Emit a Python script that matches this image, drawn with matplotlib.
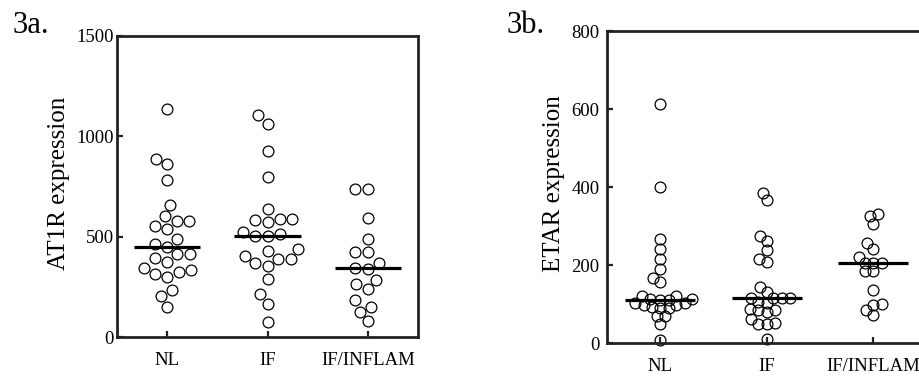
import numpy as np
import matplotlib.pyplot as plt

plt.rcParams['font.family'] = ['Liberation Serif', 'DejaVu Serif']

# categories
groups = ["NL", "IF", "IF/INFLAM"]

# 3a. AT1R expression
at1r_nl = [1136, 889, 864, 780, 658, 601, 580, 578, 553, 537, 488, 465, 450,
           412, 412, 395, 374, 342, 335, 324, 312, 300, 236, 203, 148]
at1r_if = [1106, 1063, 928, 796, 636, 590, 586, 583, 573, 523, 513, 502,
           502, 438, 427, 404, 389, 387, 367, 354, 288, 214, 166, 76]
at1r_inflam = [737, 737, 591, 487, 425, 422, 367, 344, 339, 284, 263, 238,
               184, 150, 126, 78]

# 3b. ETAR expression
etar_nl = [612, 401, 267, 242, 215, 189, 167, 156, 121, 121, 114, 114, 111,
           111, 102, 102, 98, 98, 93, 89, 89, 69, 69, 49, 8]
etar_if = [385, 366, 274, 261, 238, 215, 208, 144, 131, 116, 116, 116, 116,
           106, 102, 86, 84, 84, 79, 61, 52, 49, 49, 9]
etar_inflam = [330, 326, 306, 256, 242, 221, 206, 206, 206, 184, 184, 136,
               101, 97, 84, 73]


def swarm_x(ax, x0, values, d=9.0):
    # simple beeswarm in pixel space: each point goes to the free spot
    # nearest the column centre
    ys = ax.transData.transform([(x0, v) for v in values])[:, 1]
    offs = np.zeros(len(values))
    placed = []
    for i in np.argsort(ys):
        y = ys[i]
        blocked = []
        for px, py in placed:
            dy = abs(y - py)
            if dy < d:
                w = np.sqrt(d * d - dy * dy)
                blocked.append((px - w, px + w))
        cands = sorted([0.0] + [e for a, b in blocked for e in (a, b)], key=abs)
        for c in cands:
            if all(not (a + 1e-6 < c < b - 1e-6) for a, b in blocked):
                break
        offs[i] = c
        placed.append((c, y))
    p0 = ax.transData.transform([(0, 0), (1, 0)])
    ppu = p0[1, 0] - p0[0, 0]
    return x0 + offs / ppu


def column_scatter(ax, data, ymax, yticks, ylabel, label_x, ypad, d):
    ax.set_xlim(0.5, 3.5)
    ax.set_ylim(0, ymax)
    for k, vals in enumerate(data):
        x0 = k + 1
        xs = swarm_x(ax, x0, vals, d)
        ax.plot(xs, vals, 'o', ms=7.8, mfc='none', mec='black', mew=0.9,
                clip_on=False, zorder=2)
        med = np.median(vals)
        ax.plot([x0 - 0.33, x0 + 0.33], [med, med], color='black', lw=2.3,
                solid_capstyle='butt', zorder=3)
    ax.set_xticks([1, 2, 3])
    ax.set_xticklabels(groups)
    ax.set_yticks(yticks)
    ax.tick_params(axis='both', direction='in', length=4, width=1.6,
                   labelsize=13.5, color='#222222')
    ax.tick_params(axis='x', pad=11)
    ax.tick_params(axis='y', pad=ypad)
    for s in ax.spines.values():
        s.set_linewidth(2.0)
        s.set_color('#222222')
    ax.set_ylabel(ylabel, fontsize=18)
    ax.yaxis.set_label_coords(label_x, 0.51)


fig = plt.figure(figsize=(9.2, 3.8), dpi=100)

ax_a = fig.add_axes([117 / 920, 43 / 380, 301 / 920, 301 / 380])
column_scatter(ax_a, [at1r_nl, at1r_if, at1r_inflam], 1500,
               [0, 500, 1000, 1500], "AT1R expression", -0.156, 2.5, 12.5)

ax_b = fig.add_axes([607 / 920, 37 / 380, 319.5 / 920, 312 / 380])
column_scatter(ax_b, [etar_nl, etar_if, etar_inflam], 800,
               [0, 200, 400, 600, 800], "ETAR expression", -0.131, 5.5, 8.5)

fig.text(13 / 920, 1 - 33 / 380, "3a.", fontsize=22, va='baseline')
fig.text(507 / 920, 1 - 33 / 380, "3b.", fontsize=22, va='baseline')

fig.savefig("out.png", dpi=100)
